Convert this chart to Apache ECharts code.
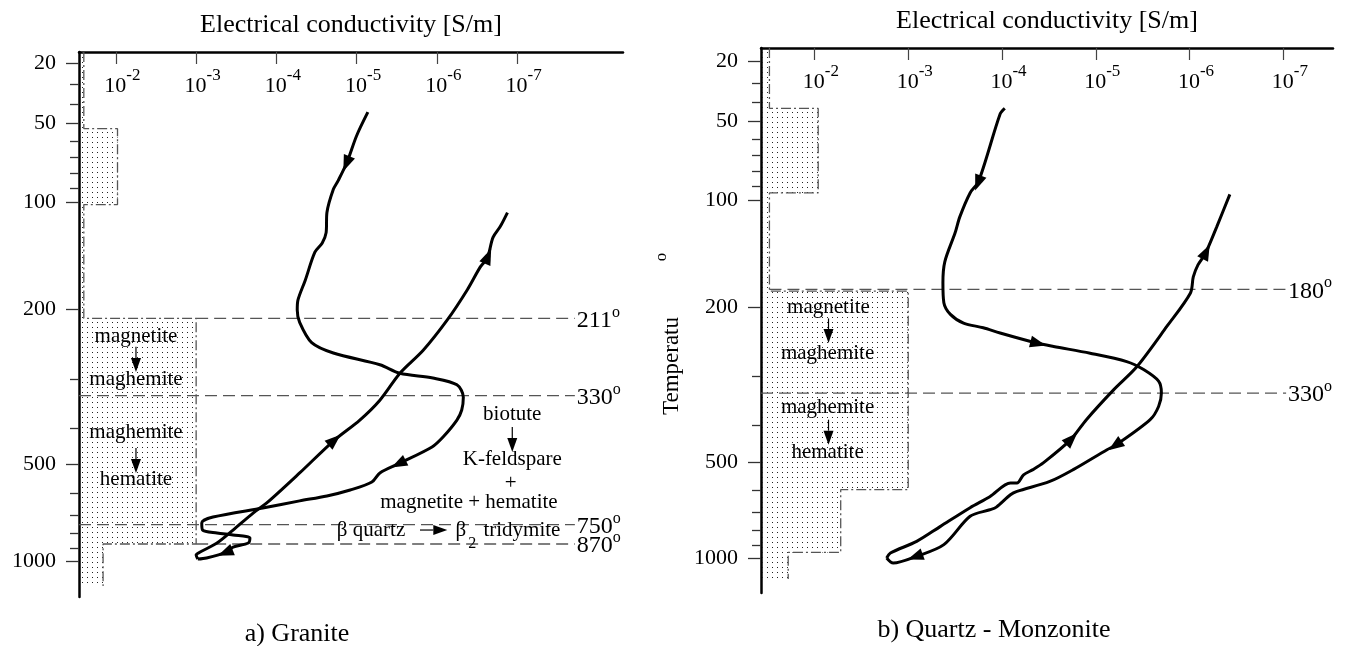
<!DOCTYPE html>
<html><head><meta charset="utf-8">
<script src="https://cdn.jsdelivr.net/npm/echarts@6/dist/echarts.min.js"></script>
<style>html,body{margin:0;padding:0;background:#fff}#c{width:1348px;height:646px}</style>
</head><body><div id="c"></div>
<script>
// ---------------- DATA ----------------
// temperature tick labels (°C) and minor ticks
const tempTicks = [20, 50, 100, 200, 500, 1000];
const tempMinorTicks = [30, 40, 60, 70, 80, 90, 300, 400, 600, 700, 800, 900];
// conductivity ticks as log10(sigma [S/m])
const condTicks = [-2, -3, -4, -5, -6, -7];

// axis ranges (temperature °C top..bottom, log10 sigma left..right)
const graniteTempRange = [15, 1407];
const graniteLogSRange = [-1.54, -8.32];
const quartzTempRange = [14, 1393];
const quartzLogSRange = [-1.43, -7.53];

// a) Granite - heating run
const graniteHeatT = [44, 57, 73, 85, 91, 108, 124, 133, 141, 168, 189, 201, 216, 243, 258, 276, 290, 298, 310, 333, 359, 381, 421, 448, 495, 527, 559, 589, 613, 634, 666, 710, 741, 781, 799, 811, 830, 863, 891, 928, 975, 984];
const graniteHeatLogS = [-5.14, -5.00, -4.88, -4.77, -4.71, -4.63, -4.62, -4.57, -4.48, -4.36, -4.27, -4.26, -4.29, -4.44, -4.71, -5.29, -5.54, -5.95, -6.25, -6.33, -6.31, -6.25, -6.08, -5.94, -5.54, -5.29, -5.19, -4.92, -4.63, -4.29, -3.83, -3.21, -3.07, -3.08, -3.26, -3.46, -3.67, -3.65, -3.46, -3.38, -3.13, -3.02];
const graniteHeatArrows = [2, 24, 39];
// a) Granite - cooling run
const graniteCoolT = [984, 951, 928, 863, 781, 690, 643, 527, 432, 381, 339, 290, 254, 213, 178, 155, 146, 128, 119, 108];
const graniteCoolLogS = [-3.02, -3.00, -3.05, -3.26, -3.46, -3.71, -3.88, -4.29, -4.71, -5.04, -5.29, -5.54, -5.83, -6.13, -6.38, -6.54, -6.63, -6.70, -6.79, -6.88];
const graniteCoolArrows = [8, 16];

// b) Quartz - Monzonite - heating run
const quartzHeatT = [43, 46, 87, 95, 113, 126, 152, 173, 195, 209, 220, 226, 233, 247, 252, 262, 275, 288, 308, 330, 357, 386, 449, 463, 525, 567, 606, 620, 675, 688, 721, 895, 986, 1045, 1000];
const quartzHeatLogS = [-4.03, -3.98, -3.75, -3.66, -3.55, -3.50, -3.39, -3.37, -3.38, -3.45, -3.59, -3.80, -3.98, -4.37, -4.55, -4.94, -5.33, -5.51, -5.67, -5.70, -5.67, -5.58, -5.22, -5.12, -4.76, -4.51, -4.16, -4.09, -3.94, -3.87, -3.66, -3.38, -3.09, -2.84, -2.77];
const quartzHeatArrows = [2, 13, 22, 32];
// b) Quartz - Monzonite - cooling run
const quartzCoolT = [1000, 959, 872, 778, 678, 628, 573, 573, 543, 525, 503, 436, 386, 324, 283, 224, 184, 167, 155, 144, 121, 96];
const quartzCoolLogS = [-2.77, -2.81, -3.09, -3.34, -3.66, -3.87, -4.09, -4.16, -4.23, -4.33, -4.44, -4.73, -4.90, -5.19, -5.44, -5.76, -6.01, -6.04, -6.09, -6.17, -6.29, -6.43];
const quartzCoolArrows = [11, 19];

// shaded (dotted) zones: temperature boundaries and right edge (log10 sigma)
const graniteZoneT = [15, 53, 102, 211, 870, 1258];
const graniteZoneLogS = [-1.60, -2.02, -1.60, -3.00, -1.84];
const quartzZoneT = [14, 43, 95, 182, 599, 954, 1210];
const quartzZoneLogS = [-1.52, -2.04, -1.52, -3.00, -2.28, -1.72];

// dashed transition temperatures
const graniteMarkT = [211, 330, 750, 870];
const graniteMarkFromLogS = [-3.00, -1.54, -1.54, -3.00];
const graniteMarkToLogS = -7.72;
const quartzMarkT = [180, 330];
const quartzMarkFromLogS = [-1.52, -1.43];
const quartzMarkToLogS = -7.03;

// notes
const graniteNoteText = ['magnetite', 'maghemite', 'maghemite', 'hematite', 'biotute', 'K-feldspare', '+', 'magnetite + hematite', 'β quartz', 'β', '2', 'tridymite'];
const graniteNoteT = [234, 301, 411, 548, 368, 485, 566, 643, 781, 781, 870, 781];
const graniteNoteLogS = [-2.25, -2.25, -2.25, -2.25, -6.94, -6.94, -6.92, -6.40, -5.18, -6.30, -6.44, -7.06];
const graniteNoteSize = [21, 21, 21, 21, 21, 21, 21, 21, 21, 21, 16, 21];
const graniteNoteArrowT0 = [249, 451, 397, 781];
const graniteNoteArrowT1 = [288, 527, 462, 781];
const graniteNoteArrowL0 = [-2.25, -2.25, -6.94, -5.79];
const graniteNoteArrowL1 = [-2.25, -2.25, -6.94, -6.13];

const quartzNoteText = ['magnetite', 'maghemite', 'maghemite', 'hematite'];
const quartzNoteT = [201, 262, 360, 470];
const quartzNoteLogS = [-2.15, -2.14, -2.14, -2.14];
const quartzNoteSize = [21, 21, 21, 21];
const quartzNoteArrowT0 = [214, 386];
const quartzNoteArrowT1 = [247, 449];
const quartzNoteArrowL0 = [-2.15, -2.15];
const quartzNoteArrowL1 = [-2.15, -2.15];

// ---------------- CHART ----------------
const FONT = '"Liberation Serif", "Times New Roman", serif';
const inv = T => 1000 / (T + 273);    // Arrhenius axis
const toX = s => -s;                  // conductivity decreasing to the right

const pc = document.createElement('canvas');
pc.width = 5; pc.height = 5;
const pg = pc.getContext('2d');
pg.fillStyle = '#222';
pg.fillRect(2, 2, 1, 1);
const dotFill = { image: pc, repeat: 'repeat' };

function xAxisCfg(gi, range) {
  return {
    type: 'value', gridIndex: gi, position: 'top',
    min: toX(range[0]), max: toX(range[1]),
    name: 'Electrical conductivity [S/m]', nameLocation: 'middle', nameGap: 14,
    nameTextStyle: { fontFamily: FONT, fontSize: 26, color: '#000' },
    axisLine: { show: true, onZero: false, lineStyle: { color: '#000', width: 2.5 } },
    axisTick: { show: true, inside: true, length: 12, customValues: condTicks.map(toX), lineStyle: { color: '#444', width: 1.2 } },
    axisLabel: {
      show: true, inside: true, customValues: condTicks.map(toX), margin: 15,
      padding: [0, 0, 0, 13],
      formatter: v => '{b|10}{s|' + (-Math.round(v)) + '}',
      rich: {
        b: { fontFamily: FONT, fontSize: 22, lineHeight: 30, verticalAlign: 'bottom', color: '#000' },
        s: { fontFamily: FONT, fontSize: 17, lineHeight: 17, verticalAlign: 'top', color: '#000' }
      }
    },
    splitLine: { show: false }
  };
}
function yAxesCfg(gi, range) {
  const base = { type: 'value', gridIndex: gi, position: 'left', min: inv(range[1]), max: inv(range[0]), splitLine: { show: false } };
  return [
    Object.assign({}, base, {
      axisLine: { show: true, onZero: false, lineStyle: { color: '#000', width: 2.5 } },
      axisTick: { show: true, length: 13, customValues: tempTicks.map(inv), lineStyle: { color: '#333', width: 1.3 } },
      axisLabel: { show: true, customValues: tempTicks.map(inv), margin: 23, formatter: v => String(Math.round(1000 / v - 273)), fontFamily: FONT, fontSize: 22, color: '#000' }
    }),
    Object.assign({}, base, {
      axisLine: { show: false },
      axisTick: { show: true, length: 9, customValues: tempMinorTicks.map(inv), lineStyle: { color: '#333', width: 1.3 } },
      axisLabel: { show: false }
    })
  ];
}
const curveData = (Ts, Ls) => Ts.map((T, i) => [toX(Ls[i]), inv(T)]);

function curveSeries(gi, Ts, Ls) {
  return { type: 'line', xAxisIndex: gi, yAxisIndex: gi * 2, data: curveData(Ts, Ls), symbol: 'none', smooth: 0.3,
    lineStyle: { color: '#000', width: 3 }, z: 5, silent: true };
}
function arrowSeries(gi, Ts, Ls, idxs) {
  const p = curveData(Ts, Ls);
  const data = idxs.map(i => p[i].concat(p[Math.max(i - 1, 0)], p[Math.min(i + 1, p.length - 1)]));
  return {
    type: 'custom', coordinateSystem: 'cartesian2d', xAxisIndex: gi, yAxisIndex: gi * 2, data, z: 6, silent: true,
    encode: { x: 0, y: 1 },
    renderItem: (params, api) => {
      const c = api.coord([api.value(0), api.value(1)]);
      const a = api.coord([api.value(2), api.value(3)]);
      const b = api.coord([api.value(4), api.value(5)]);
      let dx = b[0] - a[0], dy = b[1] - a[1];
      const d = Math.hypot(dx, dy) || 1; dx /= d; dy /= d;
      const L = 16, W = 6;
      const tip = [c[0] + dx * L * 0.6, c[1] + dy * L * 0.6];
      const bs = [c[0] - dx * L * 0.4, c[1] - dy * L * 0.4];
      return { type: 'polygon', shape: { points: [tip, [bs[0] - dy * W, bs[1] + dx * W], [bs[0] + dy * W, bs[1] - dx * W]] }, style: { fill: '#000' } };
    }
  };
}
function zoneSeries(gi, Tb, Ls, xMin) {
  return {
    type: 'custom', coordinateSystem: 'cartesian2d', xAxisIndex: gi, yAxisIndex: gi * 2,
    data: [[xMin, inv(Tb[0])]], z: 1, silent: true, encode: { x: 0, y: 1 },
    renderItem: (params, api) => {
      const pts = [api.coord([xMin, inv(Tb[0])])];
      for (let i = 0; i < Ls.length; i++) {
        pts.push(api.coord([toX(Ls[i]), inv(Tb[i])]));
        pts.push(api.coord([toX(Ls[i]), inv(Tb[i + 1])]));
      }
      pts.push(api.coord([xMin, inv(Tb[Tb.length - 1])]));
      return { type: 'polygon', shape: { points: pts }, style: { fill: dotFill, stroke: null } };
    }
  };
}
function zoneEdgeSeries(gi, Tb, Ls) {
  const data = [];
  for (let i = 0; i < Ls.length; i++) {
    data.push([toX(Ls[i]), inv(Tb[i])]);
    data.push([toX(Ls[i]), inv(Tb[i + 1])]);
  }
  return { type: 'line', xAxisIndex: gi, yAxisIndex: gi * 2, data, symbol: 'none', silent: true, z: 2,
    lineStyle: { color: '#555', width: 1.3, type: [10, 3, 2, 3] } };
}
function markSeries(gi, T, fromL, toL) {
  return {
    type: 'line', xAxisIndex: gi, yAxisIndex: gi * 2, data: [[toX(fromL), inv(T)], [toX(toL), inv(T)]],
    symbol: 'none', silent: true, z: 3,
    lineStyle: { color: '#555', width: 1.3, type: [12, 6] },
    endLabel: {
      show: true, distance: 2, formatter: () => '{n|' + T + '}{o|o}',
      rich: {
        n: { fontFamily: FONT, fontSize: 24, lineHeight: 28, verticalAlign: 'bottom', color: '#000' },
        o: { fontFamily: FONT, fontSize: 16, lineHeight: 16, verticalAlign: 'top', color: '#000' }
      }
    }
  };
}
function notesSeries(gi, texts, Ts, Ls, sizes) {
  return {
    type: 'scatter', xAxisIndex: gi, yAxisIndex: gi * 2, symbolSize: 0, silent: true, z: 7,
    itemStyle: { color: '#000' },
    data: texts.map((t, i) => ({
      value: [toX(Ls[i]), inv(Ts[i])],
      label: {
        show: true, position: [0, 0], align: 'center', verticalAlign: 'middle', formatter: t,
        fontFamily: FONT, fontSize: sizes[i], color: '#000', textBorderWidth: 0, opacity: 1
      }
    }))
  };
}
function noteArrowSeries(gi, T0, T1, L0, L1) {
  return {
    type: 'custom', coordinateSystem: 'cartesian2d', xAxisIndex: gi, yAxisIndex: gi * 2, silent: true, z: 7,
    encode: { x: 0, y: 1 },
    data: T0.map((t, i) => [toX(L0[i]), inv(t), toX(L1[i]), inv(T1[i])]),
    renderItem: (params, api) => {
      const a = api.coord([api.value(0), api.value(1)]);
      const b = api.coord([api.value(2), api.value(3)]);
      let dx = b[0] - a[0], dy = b[1] - a[1];
      const d = Math.hypot(dx, dy) || 1; dx /= d; dy /= d;
      const L = 14, W = 5;
      const bs = [b[0] - dx * L, b[1] - dy * L];
      return {
        type: 'group', children: [
          { type: 'line', shape: { x1: a[0], y1: a[1], x2: bs[0], y2: bs[1] }, style: { stroke: '#000', lineWidth: 1.2 } },
          { type: 'polygon', shape: { points: [b, [bs[0] - dy * W, bs[1] + dx * W], [bs[0] + dy * W, bs[1] - dx * W]] }, style: { fill: '#000' } }
        ]
      };
    }
  };
}

const series = [
  zoneSeries(0, graniteZoneT, graniteZoneLogS, toX(graniteLogSRange[0])),
  zoneEdgeSeries(0, graniteZoneT, graniteZoneLogS),
  ...graniteMarkT.map((T, i) => markSeries(0, T, graniteMarkFromLogS[i], graniteMarkToLogS)),
  curveSeries(0, graniteHeatT, graniteHeatLogS),
  curveSeries(0, graniteCoolT, graniteCoolLogS),
  arrowSeries(0, graniteHeatT, graniteHeatLogS, graniteHeatArrows),
  arrowSeries(0, graniteCoolT, graniteCoolLogS, graniteCoolArrows),
  notesSeries(0, graniteNoteText, graniteNoteT, graniteNoteLogS, graniteNoteSize),
  noteArrowSeries(0, graniteNoteArrowT0, graniteNoteArrowT1, graniteNoteArrowL0, graniteNoteArrowL1),

  zoneSeries(1, quartzZoneT, quartzZoneLogS, toX(quartzLogSRange[0])),
  zoneEdgeSeries(1, quartzZoneT, quartzZoneLogS),
  ...quartzMarkT.map((T, i) => markSeries(1, T, quartzMarkFromLogS[i], quartzMarkToLogS)),
  curveSeries(1, quartzHeatT, quartzHeatLogS),
  curveSeries(1, quartzCoolT, quartzCoolLogS),
  arrowSeries(1, quartzHeatT, quartzHeatLogS, quartzHeatArrows),
  arrowSeries(1, quartzCoolT, quartzCoolLogS, quartzCoolArrows),
  notesSeries(1, quartzNoteText, quartzNoteT, quartzNoteLogS, quartzNoteSize),
  noteArrowSeries(1, quartzNoteArrowT0, quartzNoteArrowT1, quartzNoteArrowL0, quartzNoteArrowL1)
];

const chart = echarts.init(document.getElementById('c'), null, { renderer: 'canvas' });
chart.setOption({
  animation: false,
  backgroundColor: '#fff',
  grid: [
    { left: 79, top: 52, width: 544, height: 545, containLabel: false, outerBoundsMode: 'none' },
    { left: 761, top: 48, width: 572, height: 545, containLabel: false, outerBoundsMode: 'none' }
  ],
  xAxis: [xAxisCfg(0, graniteLogSRange), xAxisCfg(1, quartzLogSRange)],
  yAxis: [...yAxesCfg(0, graniteTempRange), ...yAxesCfg(1, quartzTempRange)],
  graphic: [
    { type: 'text', x: 297, y: 634, style: { text: 'a) Granite', font: '26px ' + FONT, fill: '#000', textAlign: 'center', textVerticalAlign: 'middle' } },
    { type: 'text', x: 994, y: 630, style: { text: 'b) Quartz - Monzonite', font: '26px ' + FONT, fill: '#000', textAlign: 'center', textVerticalAlign: 'middle' } },
    { type: 'text', x: 672, y: 366, rotation: Math.PI / 2, style: { text: 'Temperatu', font: '23px ' + FONT, fill: '#000', textAlign: 'center', textVerticalAlign: 'middle' } },
    { type: 'text', x: 662, y: 257, rotation: Math.PI / 2, style: { text: 'o', font: '17px ' + FONT, fill: '#000', textAlign: 'center', textVerticalAlign: 'middle' } }
  ],
  series
});
</script>
</body></html>
